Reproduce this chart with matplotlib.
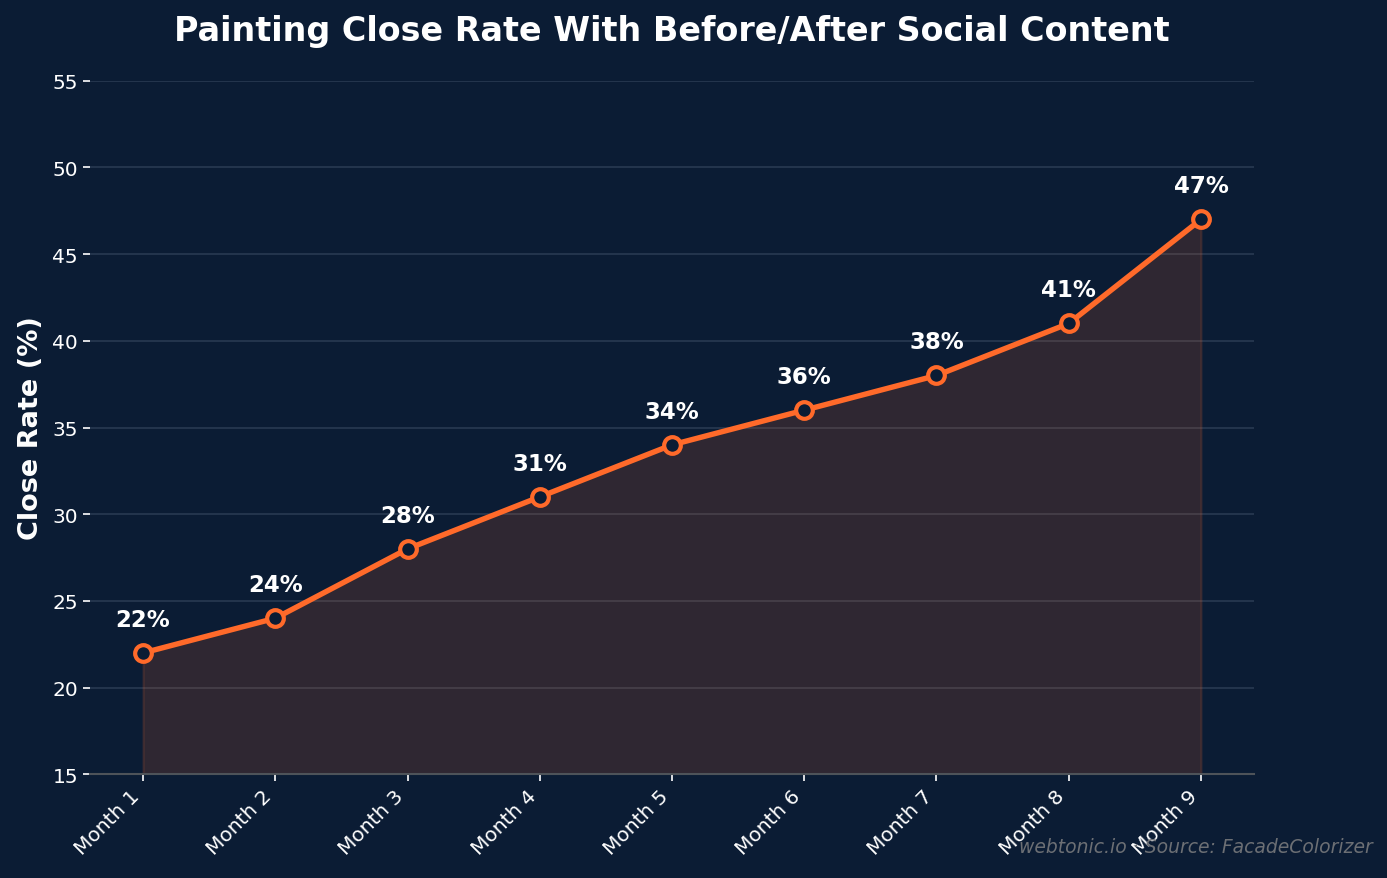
import matplotlib.pyplot as plt

months = ["Month 1", "Month 2", "Month 3", "Month 4", "Month 5",
          "Month 6", "Month 7", "Month 8", "Month 9"]
close_rate = [22, 24, 28, 31, 34, 36, 38, 41, 47]

bg = "#0b1c34"
orange = "#ff6a2a"

fig, ax = plt.subplots(figsize=(13.87, 8.79), dpi=100)
fig.patch.set_facecolor(bg)
ax.set_facecolor(bg)
fig.subplots_adjust(left=0.065, right=0.904, top=0.907, bottom=0.118)

x = list(range(len(months)))
ax.fill_between(x, close_rate, 15, color=orange, alpha=0.15, lw=1.5)
ax.plot(x, close_rate, color=orange, lw=3.9, marker="o", markersize=12,
        markerfacecolor=bg, markeredgecolor=orange, markeredgewidth=3, zorder=3)

for xi, v in zip(x, close_rate):
    ax.annotate(f"{v}%", (xi, v), xytext=(0, 16), textcoords="offset points",
                ha="center", va="bottom", color="white", fontsize=16.5, fontweight="bold")

ax.set_xlim(-0.4, 8.4)
ax.set_ylim(15, 55)
ax.set_xticks(x)
ax.set_xticklabels(months, rotation=45, ha="right", color="white", fontsize=14.5)
ax.tick_params(axis="y", colors="white", labelsize=14.5, length=5.25, width=1.2)
ax.tick_params(axis="x", colors="white", length=5.25, width=1.2)
ax.grid(axis="y", color="#8090a8", alpha=0.25, lw=1.2)
ax.set_axisbelow(True)
for s in ["top", "right", "left"]:
    ax.spines[s].set_visible(False)
ax.spines["bottom"].set_color("#4e5359")
ax.spines["bottom"].set_linewidth(1.5)

ax.set_ylabel("Close Rate (%)", color="white", fontsize=19.5, fontweight="bold", labelpad=6)
ax.set_title("Painting Close Rate With Before/After Social Content", color="white",
             fontsize=24, fontweight="bold", pad=29)

fig.text(0.99, 0.025, "webtonic.io · Source: FacadeColorizer", ha="right", va="bottom",
         color="#6c6f74", fontsize=13.5, style="italic")

fig.savefig("out.png", facecolor=bg)
